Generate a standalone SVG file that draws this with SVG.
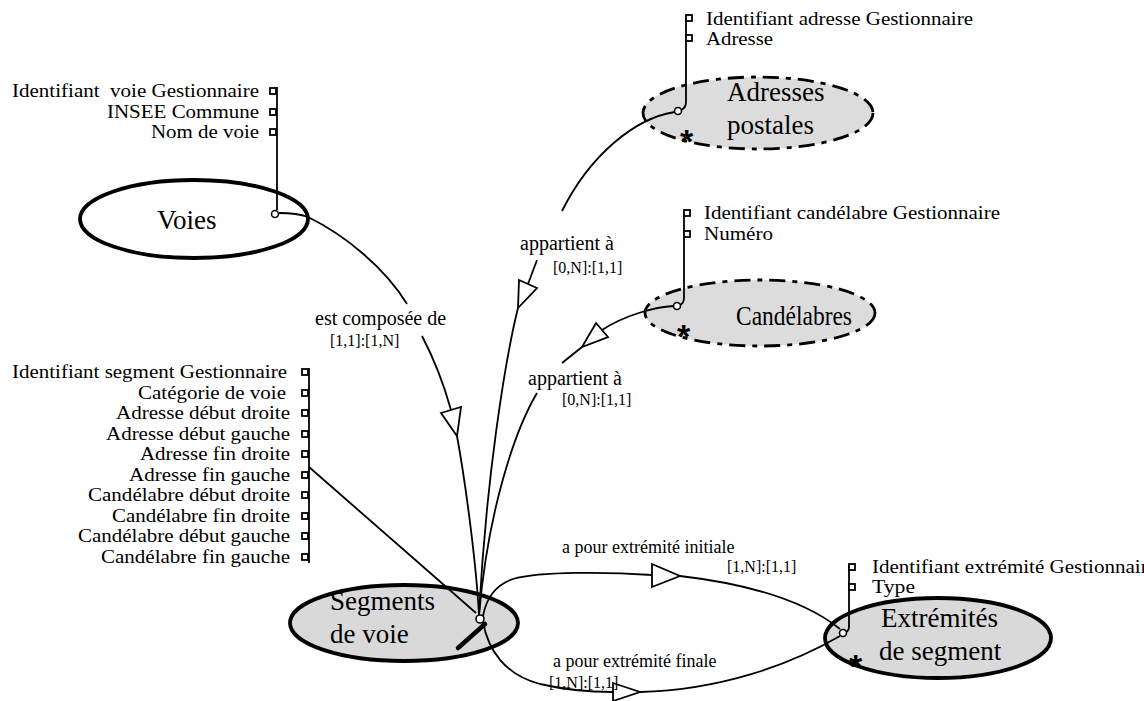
<svg xmlns="http://www.w3.org/2000/svg" width="1144" height="701" viewBox="0 0 1144 701">
<style>
  .attr{font-family:"Liberation Serif","Times New Roman",serif;font-size:18px;fill:#000;white-space:pre}
  .title{font-family:"Liberation Serif","Times New Roman",serif;font-size:27px;fill:#000}
  .lbl{font-family:"Liberation Serif","Times New Roman",serif;font-size:20px;fill:#000}
  .lbl2{font-family:"Liberation Serif","Times New Roman",serif;font-size:18px;fill:#000}
  .card{font-family:"Liberation Serif","Times New Roman",serif;font-size:16px;fill:#000}
  .star{font-family:"Liberation Sans",Arial,sans-serif;font-size:34px;font-weight:bold;fill:#000}
  .solid{fill:#fff;stroke:#000;stroke-width:3.8}
  .solidg{fill:#d9d9d9;stroke:#000;stroke-width:3.8}
  .dash{fill:#dcdcdc;stroke:#000;stroke-width:2.8;stroke-dasharray:16 7 5 7}
  .stem{fill:none;stroke:#000;stroke-width:1.8}
  .sq{fill:#fff;stroke:#000;stroke-width:1.8}
  .dot{fill:#fff;stroke:#000;stroke-width:1.6}
  .con{fill:none;stroke:#000;stroke-width:1.8}
  .tri{fill:#fff;stroke:#000;stroke-width:1.8;stroke-linejoin:miter}
</style>
<rect width="1144" height="701" fill="#fff"/>

<g id="voies">
  <ellipse class="solid" cx="194" cy="219" rx="114" ry="39"/>
  <text class="title" x="157" y="229">Voies</text>
  <path class="stem" d="M277 87 L277 210"/>
  <rect class="sq" x="270" y="88" width="6" height="6"/>
  <rect class="sq" x="270" y="109" width="6" height="6"/>
  <rect class="sq" x="270" y="129" width="6" height="6"/>
  <text class="attr" x="259" y="97" text-anchor="end" textLength="247" lengthAdjust="spacingAndGlyphs">Identifiant  voie Gestionnaire</text>
  <text class="attr" x="259" y="118" text-anchor="end" textLength="152" lengthAdjust="spacingAndGlyphs">INSEE Commune</text>
  <text class="attr" x="259" y="138" text-anchor="end" textLength="108" lengthAdjust="spacingAndGlyphs">Nom de voie</text>
  <circle class="dot" cx="275" cy="214" r="3.5"/>
</g>

<g id="adresses">
  <ellipse class="dash" cx="758" cy="113" rx="115" ry="36"/>
  <text class="title" x="727" y="101">Adresses</text>
  <text class="title" x="727" y="134">postales</text>
  <text class="star" x="680" y="153">*</text>
  <path class="stem" d="M686 16 L686 102 Q686 108 681 110"/>
  <rect class="sq" x="686" y="15" width="6" height="6"/>
  <rect class="sq" x="686" y="35" width="6" height="6"/>
  <text class="attr" x="706" y="25" textLength="267" lengthAdjust="spacingAndGlyphs">Identifiant adresse Gestionnaire</text>
  <text class="attr" x="706" y="45" textLength="67" lengthAdjust="spacingAndGlyphs">Adresse</text>
  <circle class="dot" cx="678" cy="111" r="3.5"/>
</g>

<g id="candelabres">
  <ellipse class="dash" cx="760" cy="313" rx="115" ry="33"/>
  <text class="title" x="736" y="325" textLength="116" lengthAdjust="spacingAndGlyphs">Candélabres</text>
  <text class="star" x="677" y="348">*</text>
  <path class="stem" d="M684 211 L684 298 Q684 304 679 305"/>
  <rect class="sq" x="684" y="210" width="6" height="6"/>
  <rect class="sq" x="684" y="231" width="6" height="6"/>
  <text class="attr" x="704" y="219" textLength="296" lengthAdjust="spacingAndGlyphs">Identifiant candélabre Gestionnaire</text>
  <text class="attr" x="704" y="240" textLength="69" lengthAdjust="spacingAndGlyphs">Numéro</text>
  <circle class="dot" cx="677" cy="306" r="3.5"/>
</g>

<g id="segments">
  <ellipse class="solidg" cx="404" cy="623" rx="114" ry="38"/>
  <text class="title" x="330" y="610">Segments</text>
  <text class="title" x="330" y="643">de voie</text>
  <path class="stem" d="M309 368 L309 563"/>
  <rect class="sq" x="302" y="369" width="6" height="6"/>
  <rect class="sq" x="302" y="390" width="6" height="6"/>
  <rect class="sq" x="302" y="410" width="6" height="6"/>
  <rect class="sq" x="302" y="431" width="6" height="6"/>
  <rect class="sq" x="302" y="451" width="6" height="6"/>
  <rect class="sq" x="302" y="472" width="6" height="6"/>
  <rect class="sq" x="302" y="492" width="6" height="6"/>
  <rect class="sq" x="302" y="513" width="6" height="6"/>
  <rect class="sq" x="302" y="533" width="6" height="6"/>
  <rect class="sq" x="302" y="554" width="6" height="6"/>
  <text class="attr" x="287" y="378" text-anchor="end" textLength="275" lengthAdjust="spacingAndGlyphs">Identifiant segment Gestionnaire</text>
  <text class="attr" x="286" y="399" text-anchor="end" textLength="148" lengthAdjust="spacingAndGlyphs">Catégorie de voie</text>
  <text class="attr" x="290" y="419" text-anchor="end" textLength="174" lengthAdjust="spacingAndGlyphs">Adresse début droite</text>
  <text class="attr" x="290" y="440" text-anchor="end" textLength="184" lengthAdjust="spacingAndGlyphs">Adresse début gauche</text>
  <text class="attr" x="290" y="460" text-anchor="end" textLength="150" lengthAdjust="spacingAndGlyphs">Adresse fin droite</text>
  <text class="attr" x="290" y="481" text-anchor="end" textLength="161" lengthAdjust="spacingAndGlyphs">Adresse fin gauche</text>
  <text class="attr" x="290" y="501" text-anchor="end" textLength="202" lengthAdjust="spacingAndGlyphs">Candélabre début droite</text>
  <text class="attr" x="290" y="522" text-anchor="end" textLength="178" lengthAdjust="spacingAndGlyphs">Candélabre fin droite</text>
  <text class="attr" x="290" y="542" text-anchor="end" textLength="212" lengthAdjust="spacingAndGlyphs">Candélabre début gauche</text>
  <text class="attr" x="290" y="563" text-anchor="end" textLength="189" lengthAdjust="spacingAndGlyphs">Candélabre fin gauche</text>
  <path d="M458 648 L485 624" stroke="#000" stroke-width="4.5" stroke-linecap="round"/>
</g>

<g id="extremites">
  <ellipse class="solidg" cx="938" cy="638" rx="113" ry="40"/>
  <text class="title" x="881" y="627">Extrémités</text>
  <text class="title" x="879" y="660">de segment</text>
  <text class="star" x="849" y="678">*</text>
  <path class="stem" d="M849 565 L849 626 Q849 631 846 632"/>
  <rect class="sq" x="849" y="564" width="6" height="6"/>
  <rect class="sq" x="849" y="584" width="6" height="6"/>
  <text class="attr" x="872" y="573" textLength="285" lengthAdjust="spacingAndGlyphs">Identifiant extrémité Gestionnaire</text>
  <text class="attr" x="872" y="593" textLength="43" lengthAdjust="spacingAndGlyphs">Type</text>
</g>

<g id="connectors">
  <!-- Voies -> Segments : est composée de -->
  <path class="con" d="M279 213 C290 213 300 214 308 217 C345 235 385 268 407 304"/>
  <path class="con" d="M422 336 C432 355 444 385 451 410"/>
  <polygon class="tri" points="441,413 461,407 457,436"/>
  <path class="con" d="M457 436 C465 480 476 560 479 615"/>
  <text class="lbl" x="315" y="325">est composée de</text>
  <text class="card" x="330" y="346">[1,1]:[1,N]</text>

  <!-- Adresses -> Segments : appartient à -->
  <path class="con" d="M675 112 C635 118 590 155 562 211"/>
  <path class="con" d="M537 260 L528 284"/>
  <polygon class="tri" points="519,280 537,288 518,308"/>
  <path class="con" d="M518 308 C505 360 486 480 479 615"/>
  <text class="lbl" x="520" y="250">appartient à</text>
  <text class="card" x="553" y="273">[0,N]:[1,1]</text>

  <!-- Candélabres -> Segments : appartient à -->
  <path class="con" d="M674 306 C655 307 625 315 602 330"/>
  <polygon class="tri" points="596,323 608,337 582,347"/>
  <path class="con" d="M582 347 L562 363"/>
  <path class="con" d="M537 393 C515 430 488 510 479 615"/>
  <text class="lbl" x="528" y="385">appartient à</text>
  <text class="card" x="562" y="405">[0,N]:[1,1]</text>

  <!-- attribute link -->
  <path class="con" d="M309 467 L476 613"/>

  <!-- Segments -> Extrémités : initiale -->
  <path class="con" d="M483 616 C486 600 495 585 513 579 C540 571 610 572 652 575"/>
  <polygon class="tri" points="652,564 680,576 652,587"/>
  <path class="con" d="M680 576 C740 583 800 597 840 629"/>
  <text class="lbl2" x="562" y="553">a pour extrémité initiale</text>
  <text class="card" x="727" y="572">[1,N]:[1,1]</text>

  <!-- Segments -> Extrémités : finale -->
  <path class="con" d="M483 622 C488 650 505 675 540 684 C570 691 595 692 613 692"/>
  <polygon class="tri" points="613,683 640,692 613,701"/>
  <path class="con" d="M640 692 C720 690 790 665 840 636"/>
  <text class="lbl2" x="553" y="667">a pour extrémité finale</text>
  <text class="card" x="549" y="688">[1,N]:[1,1]</text>
</g>

<circle class="dot" cx="480" cy="619" r="4"/>
<circle class="dot" cx="843" cy="633" r="3.5"/>
</svg>
